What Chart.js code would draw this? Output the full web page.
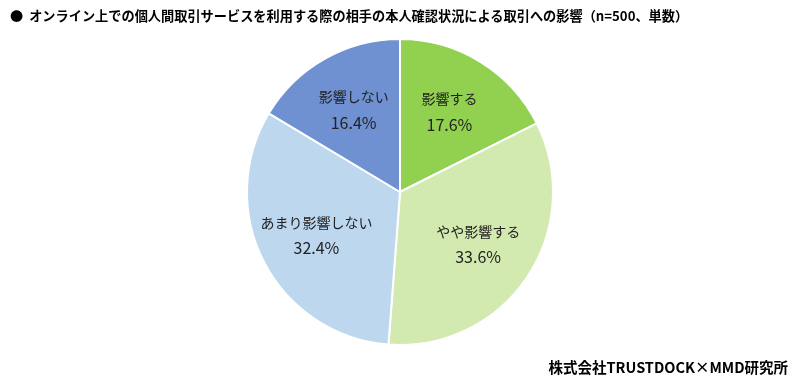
<!DOCTYPE html>
<html lang="ja">
  <head>
    <meta charset="UTF-8" />
    <title>本人確認状況による取引への影響</title>
    <script src="https://cdn.jsdelivr.net/npm/chart.js"></script>
    <style>
      body {
        margin: 0;
        overflow: hidden;
        background: #fff;
        font-family: "Noto Sans CJK JP", sans-serif;
      }
      #wrap {
        position: relative;
        width: 800px;
        height: 386px;
      }
      #title {
        position: absolute;
        left: 10px;
        top: 6px;
        font-size: 13.2px;
        font-weight: bold;
        color: #000;
        white-space: nowrap;
      }
      #source {
        position: absolute;
        right: 12px;
        top: 356px;
        font-size: 14.5px;
        font-weight: bold;
        color: #000;
      }
      canvas {
        position: absolute;
        left: 0;
        top: 0;
      }
    </style>
  </head>
  <body>
    <div id="wrap">
      <canvas id="myChart" width="800" height="386"></canvas>
      <div id="title">●&nbsp;&nbsp;オンライン上での個人間取引サービスを利用する際の相手の本人確認状況による取引への影響（n=500、単数）</div>
      <div id="source">株式会社TRUSTDOCK×MMD研究所</div>
    </div>
    <script>
      const categories = ["影響する", "やや影響する", "あまり影響しない", "影響しない"];
      const percents = [17.6, 33.6, 32.4, 16.4];
      const sliceColors = ["#92D050", "#D2EAB0", "#BDD7EE", "#6F91D1"];

      // draws the two-line label inside each slice
      const sliceLabels = {
        id: "sliceLabels",
        afterDatasetsDraw(chart) {
          const ctx = chart.ctx;
          const meta = chart.getDatasetMeta(0);
          ctx.save();
          ctx.fillStyle = "#222";
          ctx.textAlign = "center";
          ctx.textBaseline = "middle";
          meta.data.forEach(function (arc, i) {
            const p = arc.getProps(["x", "y", "startAngle", "endAngle", "outerRadius"], true);
            const mid = (p.startAngle + p.endAngle) / 2;
            const d = p.outerRadius * 0.615;
            const x = p.x + Math.cos(mid) * d;
            const y = p.y + Math.sin(mid) * d;
            ctx.font = '14px "Noto Sans CJK JP", sans-serif';
            ctx.fillText(categories[i], x, y - 13);
            ctx.font = '16px "Noto Sans CJK JP", sans-serif';
            ctx.fillText(percents[i].toFixed(1) + "%", x, y + 13);
          });
          ctx.restore();
        },
      };

      const ctx = document.getElementById("myChart").getContext("2d");
      new Chart(ctx, {
        type: "pie",
        data: {
          labels: categories,
          datasets: [
            {
              data: percents,
              backgroundColor: sliceColors,
              borderColor: "#ffffff",
              borderWidth: 2,
            },
          ],
        },
        options: {
          responsive: false,
          animation: false,
          layout: {
            padding: { top: 38, bottom: 40, left: 0, right: 0 },
          },
          plugins: {
            legend: { display: false },
            tooltip: { enabled: false },
          },
        },
        plugins: [sliceLabels],
      });
    </script>
  </body>
</html>
